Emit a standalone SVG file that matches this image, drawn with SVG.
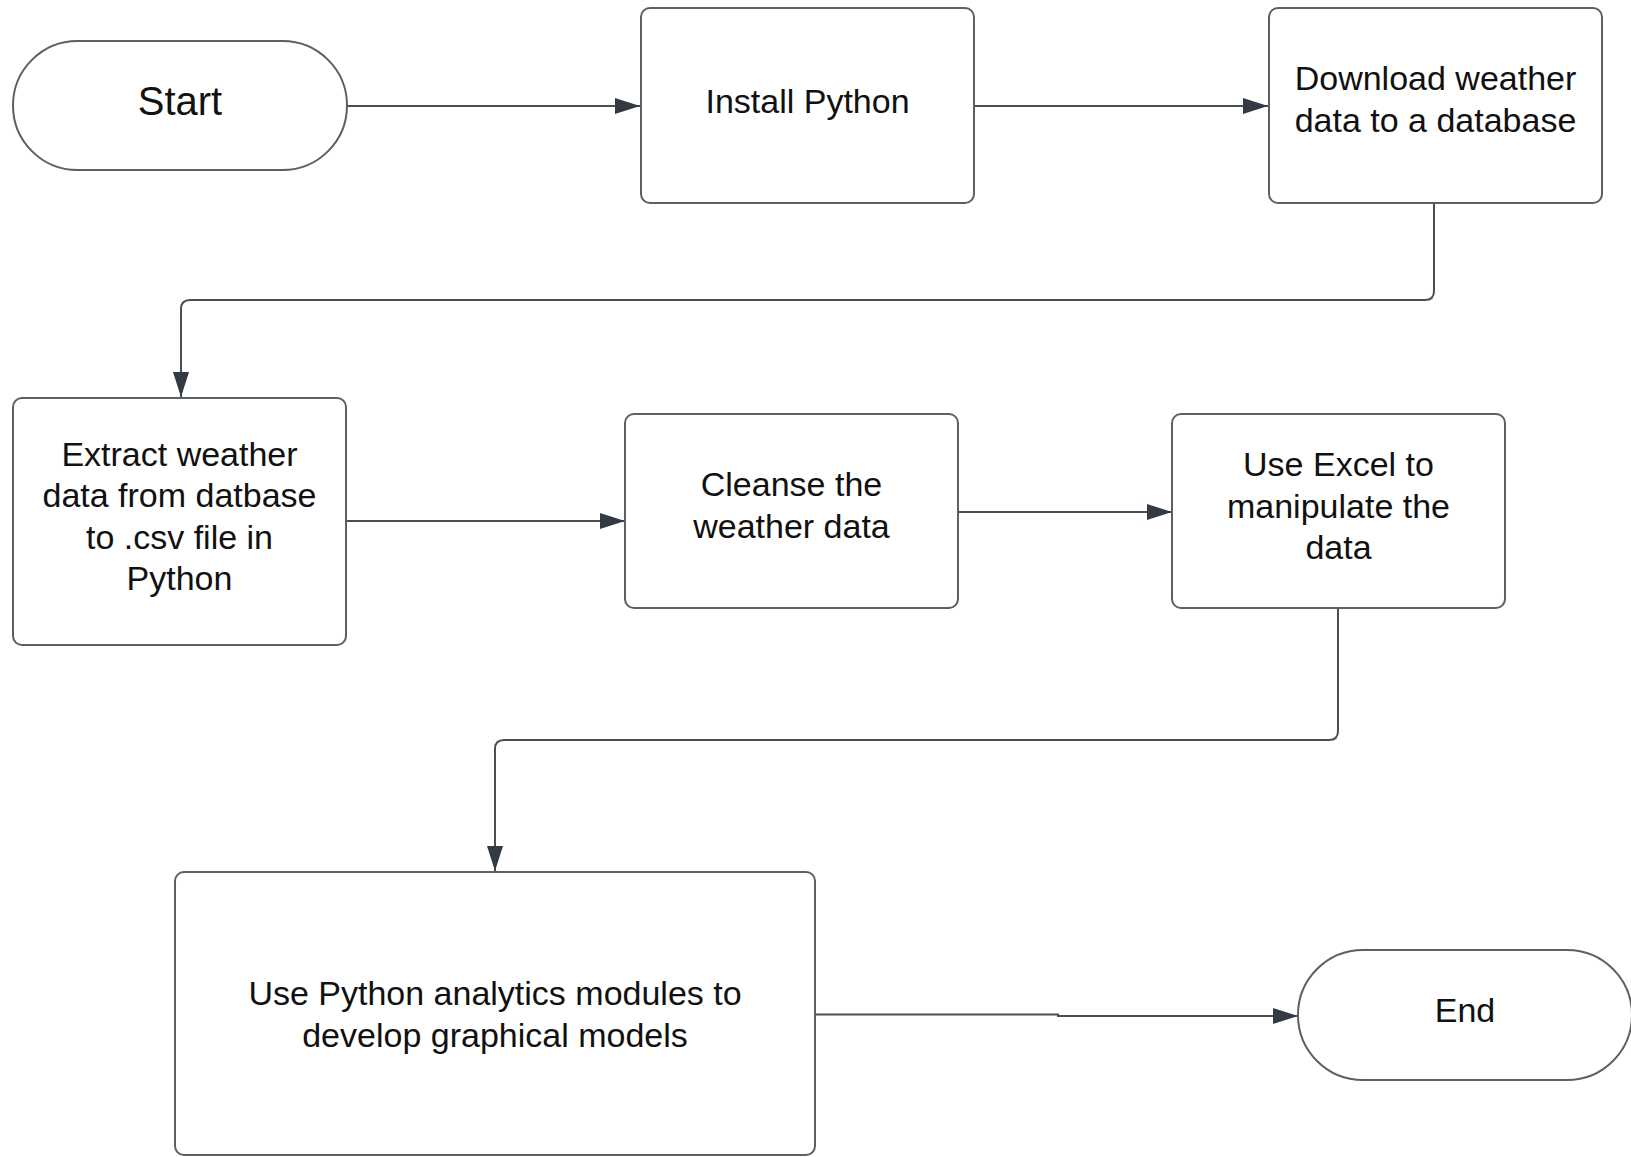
<svg xmlns="http://www.w3.org/2000/svg" width="1631" height="1157" viewBox="0 0 1631 1157">
  <defs>
    <style>
      .shape { fill: #ffffff; stroke: #5c5f63; stroke-width: 2; }
      .conn { fill: none; stroke: #4a4f57; stroke-width: 2; }
      .label { font-family: "Liberation Sans", Arial, sans-serif; font-size: 34px; fill: #111111; text-anchor: middle; }
      .big { font-size: 40px; }
    </style>
    <marker id="arrow" markerUnits="userSpaceOnUse" markerWidth="26" markerHeight="18" refX="25" refY="8" orient="auto">
      <path d="M0,0 L25,8 L0,16 z" fill="#333a44"/>
    </marker>
  </defs>
  <rect width="1631" height="1157" fill="#ffffff"/>

  <g id="connectors">
    <path class="conn" d="M347 106 L640 106" marker-end="url(#arrow)"/>
    <path class="conn" d="M974 106 L1268 106" marker-end="url(#arrow)"/>
    <path class="conn" d="M1434 203 L1434 291 Q1434 300 1425 300 L190 300 Q181 300 181 309 L181 397" marker-end="url(#arrow)"/>
    <path class="conn" d="M346 521 L625 521" marker-end="url(#arrow)"/>
    <path class="conn" d="M958 512 L1172 512" marker-end="url(#arrow)"/>
    <path class="conn" d="M1338 608 L1338 731 Q1338 740 1329 740 L504 740 Q495 740 495 749 L495 871" marker-end="url(#arrow)"/>
    <path class="conn" d="M815 1014.5 L1058 1014.5 L1058 1016 L1298 1016" marker-end="url(#arrow)"/>
  </g>

  <g id="start">
    <rect class="shape" x="13" y="41" width="334" height="129" rx="64.5" ry="64.5"/>
    <text class="label big" x="180" y="115">Start</text>
  </g>

  <g id="install-python">
    <rect class="shape" x="641" y="8" width="333" height="195" rx="9" ry="9"/>
    <text class="label" x="807.5" y="113">Install Python</text>
  </g>

  <g id="download-weather">
    <rect class="shape" x="1269" y="8" width="333" height="195" rx="9" ry="9"/>
    <text class="label" x="1435.5" y="90">Download weather</text>
    <text class="label" x="1435.5" y="131.5">data to a database</text>
  </g>

  <g id="extract-weather">
    <rect class="shape" x="13" y="398" width="333" height="247" rx="9" ry="9"/>
    <text class="label" x="179.5" y="465.5">Extract weather</text>
    <text class="label" x="179.5" y="507">data from datbase</text>
    <text class="label" x="179.5" y="548.5">to .csv file in</text>
    <text class="label" x="179.5" y="590">Python</text>
  </g>

  <g id="cleanse">
    <rect class="shape" x="625" y="414" width="333" height="194" rx="9" ry="9"/>
    <text class="label" x="791.5" y="496">Cleanse the</text>
    <text class="label" x="791.5" y="537.5">weather data</text>
  </g>

  <g id="use-excel">
    <rect class="shape" x="1172" y="414" width="333" height="194" rx="9" ry="9"/>
    <text class="label" x="1338.5" y="476">Use Excel to</text>
    <text class="label" x="1338.5" y="517.5">manipulate the</text>
    <text class="label" x="1338.5" y="559">data</text>
  </g>

  <g id="python-analytics">
    <rect class="shape" x="175" y="872" width="640" height="283" rx="9" ry="9"/>
    <text class="label" x="495" y="1005">Use Python analytics modules to</text>
    <text class="label" x="495" y="1046.5">develop graphical models</text>
  </g>

  <g id="end">
    <rect class="shape" x="1298" y="950" width="334" height="130" rx="65" ry="65"/>
    <text class="label" x="1465" y="1022">End</text>
  </g>
</svg>
